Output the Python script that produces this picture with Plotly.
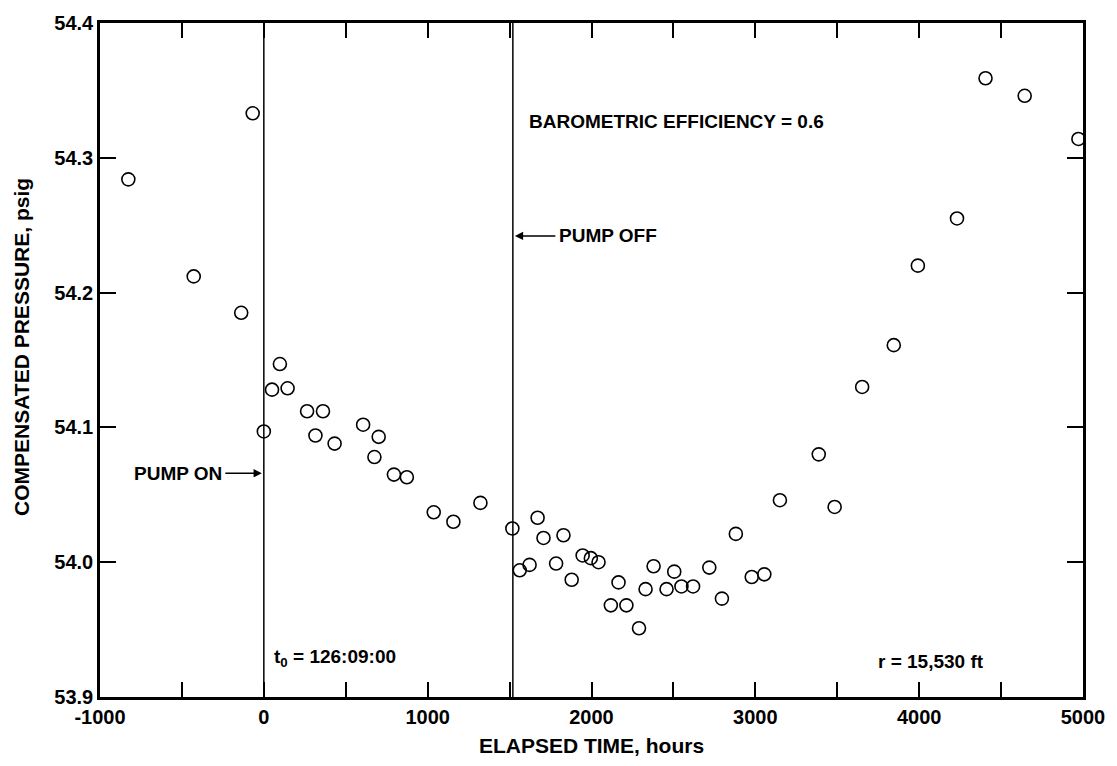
import plotly.graph_objects as go

# ---- data ----
elapsed_hours = [-827, -428, -138, -68, 0, 50, 98, 145, 264, 315, 361, 432,
                 606, 675, 701, 794, 873, 1037, 1157, 1322, 1517, 1562, 1622,
                 1671, 1707, 1784, 1829, 1879, 1946, 1996, 2043, 2118, 2165,
                 2213, 2290, 2330, 2379, 2458, 2505, 2549, 2620, 2719, 2796,
                 2881, 2978, 3055, 3150, 3387, 3484, 3652, 3845, 3992, 4231,
                 4405, 4644, 4972]
pressure_psig = [54.284, 54.212, 54.185, 54.333, 54.097, 54.128, 54.147, 54.129,
                 54.112, 54.094, 54.112, 54.088, 54.102, 54.078, 54.093, 54.065,
                 54.063, 54.037, 54.030, 54.044, 54.025, 53.994, 53.998, 54.033,
                 54.018, 53.999, 54.020, 53.987, 54.005, 54.003, 54.000, 53.968,
                 53.985, 53.968, 53.951, 53.980, 53.997, 53.980, 53.993, 53.982,
                 53.982, 53.996, 53.973, 54.021, 53.989, 53.991, 54.046, 54.080,
                 54.041, 54.130, 54.161, 54.220, 54.255, 54.359, 54.346, 54.314]

pump_on_time = 0
pump_off_time = 1520

x_tick_vals = [-1000, 0, 1000, 2000, 3000, 4000, 5000]
x_tick_text = ["-1000", "0", "1000", "2000", "3000", "4000", "5000"]
x_minor_vals = [-500, 500, 1500, 2500, 3500, 4500]
y_tick_vals = [53.9, 54.0, 54.1, 54.2, 54.3, 54.4]
y_tick_text = ["53.9", "54.0", "54.1", "54.2", "54.3", "54.4"]

FONT = "Liberation Sans, Arial, Helvetica, sans-serif"

fig = go.Figure()
fig.add_trace(go.Scatter(
    x=elapsed_hours, y=pressure_psig, mode="markers",
    marker=dict(symbol="circle-open", size=13, color="black", line=dict(width=1.6, color="black")),
    showlegend=False, hoverinfo="x+y",
))

# vertical pump lines
for t in (pump_on_time, pump_off_time):
    fig.add_shape(type="line", xref="x", yref="paper", x0=t, x1=t, y0=0, y1=1,
                  line=dict(color="black", width=1.5))

ann_font = dict(family=FONT, size=19, color="black", weight="bold")

# PUMP ON: text with arrow pointing right to the pump-on line
fig.add_annotation(x=pump_on_time, y=54.066, xref="x", yref="y", text="PUMP ON",
                   showarrow=True, ax=-86, ay=0, arrowhead=2, arrowsize=1.1,
                   arrowwidth=1.5, arrowcolor="black", standoff=2, borderpad=3,
                   font=ann_font)

# PUMP OFF: text with arrow pointing left to the pump-off line
fig.add_annotation(x=pump_off_time, y=54.242, xref="x", yref="y", text="PUMP OFF",
                   showarrow=True, ax=95, ay=0, arrowhead=2, arrowsize=1.1,
                   arrowwidth=1.5, arrowcolor="black", standoff=2, borderpad=3,
                   font=ann_font)

fig.add_annotation(x=1608, y=54.327, xref="x", yref="y", text="BAROMETRIC EFFICIENCY = 0.6",
                   showarrow=False, xanchor="left", font=ann_font)
fig.add_annotation(x=52, y=53.929, xref="x", yref="y", text="t<sub>0</sub> = 126:09:00",
                   showarrow=False, xanchor="left", font=ann_font)
fig.add_annotation(x=3736, y=53.926, xref="x", yref="y", text="r = 15,530 ft",
                   showarrow=False, xanchor="left", font=ann_font)

# y axis title as annotation for exact placement
plot_w = 1117 - 100 - 30
plot_h = 766 - 18 - 69
fig.add_annotation(x=(21 - 100) / plot_w, y=(766 - 69 - 344) / plot_h,
                   xref="paper", yref="paper", text="COMPENSATED PRESSURE, psig",
                   showarrow=False, textangle=-90, xanchor="center", yanchor="middle",
                   font=dict(family=FONT, size=21, color="black", weight="bold"))

fig.update_xaxes(
    range=[-1000, 5000], tickvals=x_tick_vals, ticktext=x_tick_text,
    ticks="inside", ticklen=15, tickwidth=2, tickcolor="black",
    minor=dict(tickvals=x_minor_vals, ticks="inside", ticklen=15, tickwidth=2,
               tickcolor="black", showgrid=False),
    showline=True, linewidth=2.5, linecolor="black", mirror="ticks",
    showgrid=False, zeroline=False,
    tickfont=dict(family=FONT, size=20, color="black", weight="bold"),
    title=dict(text="ELAPSED TIME, hours", standoff=12,
               font=dict(family=FONT, size=21, color="black", weight="bold")),
)
fig.update_yaxes(
    range=[53.9, 54.4], tickvals=y_tick_vals, ticktext=y_tick_text,
    ticks="inside", ticklen=16, tickwidth=2, tickcolor="black",
    showline=True, linewidth=2.5, linecolor="black", mirror="ticks",
    showgrid=False, zeroline=False,
    tickfont=dict(family=FONT, size=20, color="black", weight="bold"),
)

fig.update_layout(
    width=1117, height=766, autosize=False,
    margin=dict(l=100, r=30, t=18, b=69, pad=0),
    plot_bgcolor="white", paper_bgcolor="white",
    font=dict(family=FONT, color="black"),
)

fig.write_html("out.html", config={"displayModeBar": False},
               post_script="document.body.style.margin='0';")
